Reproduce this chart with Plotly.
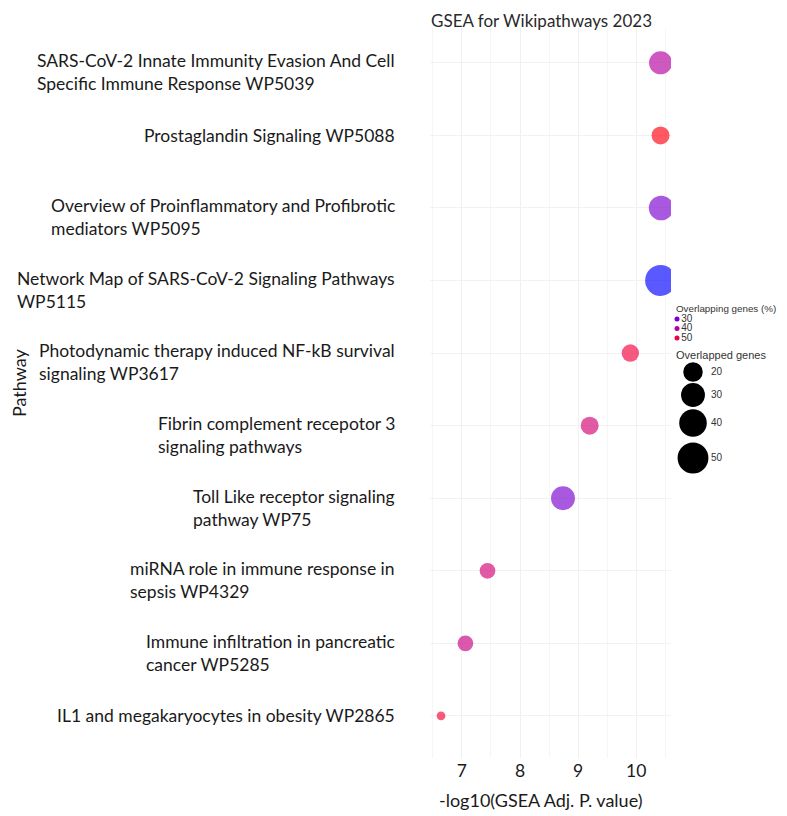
import plotly.graph_objects as go

# ---------------- data ----------------
pathways = [
    "SARS-CoV-2 Innate Immunity Evasion And Cell<br>Specific Immune Response WP5039",
    "Prostaglandin Signaling WP5088",
    "Overview of Proinflammatory and Profibrotic<br>mediators WP5095",
    "Network Map of SARS-CoV-2 Signaling Pathways<br>WP5115",
    "Photodynamic therapy induced NF-kB survival<br>signaling WP3617",
    "Fibrin complement recepotor 3<br>signaling pathways",
    "Toll Like receptor signaling<br>pathway WP75",
    "miRNA role in immune response in<br>sepsis WP4329",
    "Immune infiltration in pancreatic<br>cancer WP5285",
    "IL1 and megakaryocytes in obesity WP2865",
]
neg_log10_padj = [10.42, 10.42, 10.43, 10.42, 9.90, 9.20, 8.74, 7.44, 7.06, 6.64]
overlap_pct = [40, 55, 30, 20, 51, 45, 30, 45, 43, 52]
overlapped_genes = [28, 17, 32, 50, 16, 17, 30, 13, 13, 4]

legend_pct = [30, 40, 50]
legend_genes = [20, 30, 40, 50]
x_ticks = [7, 8, 9, 10]

title_text = "GSEA for Wikipathways 2023"
x_title = "-log10(GSEA Adj. P. value)"
y_title = "Pathway"

# ---------------- styles ----------------
OFF = 8                      # default page-body margin
W_REF, H_REF = 787, 816
W, H = W_REF - OFF, H_REF - OFF
PLOT_L, PLOT_R, PLOT_T, PLOT_B = 430, 671, 28, 758   # reference pixel box of the plot
ML = PLOT_L - OFF
MT = PLOT_T - OFF
MB = H - (PLOT_B - OFF)
MR = 0
PW = W - ML - MR
PH = H - MT - MB
main_frac = (PLOT_R - PLOT_L) / PW

colorscale = [
    [0.0, "#0000ff"],
    [10 / 35, "#7a00d0"],
    [20 / 35, "#b4009e"],
    [30 / 35, "#f00048"],
    [1.0, "#ff0010"],
]
CMIN, CMAX = 20, 55
SIZEREF = 1.6 / 3.9 ** 2
LABEL_FONT = "Lato"
TXT = "#1a1a1a"
idx = list(range(len(pathways)))

fig = go.Figure()

fig.add_trace(go.Scatter(
    x=neg_log10_padj, y=idx, mode="markers",
    marker=dict(size=overlapped_genes, sizemode="area", sizeref=SIZEREF,
                color=overlap_pct, colorscale=colorscale, cmin=CMIN, cmax=CMAX,
                opacity=0.65, line=dict(width=0), showscale=False),
    cliponaxis=True, showlegend=False, hoverinfo="skip",
    xaxis="x", yaxis="y",
))

# ---------- custom legend drawn in a second subplot (reference-pixel coords) ----------
leg_x0 = 675
pct_y = [319 + 9.5 * i for i in range(len(legend_pct))]
fig.add_trace(go.Scatter(
    x=[677] * len(legend_pct), y=pct_y, mode="markers+text",
    marker=dict(size=5, color=legend_pct, colorscale=colorscale, cmin=CMIN, cmax=CMAX,
                showscale=False, opacity=1),
    text=[str(v) for v in legend_pct], textposition="middle right",
    textfont=dict(family="Arial", size=10, color="#333333"),
    showlegend=False, hoverinfo="skip", xaxis="x2", yaxis="y2", cliponaxis=False,
))
genes_y = [372, 395, 423, 458]
fig.add_trace(go.Scatter(
    x=[693] * len(legend_genes), y=genes_y, mode="markers",
    marker=dict(size=legend_genes, sizemode="area", sizeref=SIZEREF, color="#000000",
                opacity=1, line=dict(width=0)),
    showlegend=False, hoverinfo="skip", xaxis="x2", yaxis="y2", cliponaxis=False,
))
fig.add_trace(go.Scatter(
    x=[711] * len(legend_genes), y=genes_y, mode="text",
    text=[str(v) for v in legend_genes], textposition="middle right",
    textfont=dict(family="Arial", size=10, color="#333333"),
    showlegend=False, hoverinfo="skip", xaxis="x2", yaxis="y2", cliponaxis=False,
))

annotations = []
annotations.append(dict(x=leg_x0, y=308, xref="x2", yref="y2", text="Overlapping genes (%)",
                        showarrow=False, xanchor="left", yanchor="middle", borderpad=0,
                        font=dict(family="Arial", size=9.8, color="#333333")))
annotations.append(dict(x=leg_x0, y=355, xref="x2", yref="y2", text="Overlapped genes",
                        showarrow=False, xanchor="left", yanchor="middle", borderpad=0,
                        font=dict(family="Arial", size=11, color="#333333")))

# pathway labels: left-aligned text blocks ending at the same right edge
LAB_SIZE = 17.5
line_h = 1.3 * LAB_SIZE
for i, lab in enumerate(pathways):
    n = len(lab.split("<br>"))
    ys = 0 if n == 1 else -(line_h / 2) + 2
    annotations.append(dict(
        x=0, xref="paper", xshift=-34, xanchor="right",
        y=i, yref="y", yshift=ys, yanchor="middle",
        text=lab, showarrow=False, align="left", borderpad=0,
        font=dict(family=LABEL_FONT, size=LAB_SIZE, color=TXT),
    ))

# chart title
annotations.append(dict(
    x=0, xref="paper", xanchor="left",
    y=1, yref="paper", yshift=MT - 1, yanchor="top",
    text=title_text, showarrow=False, borderpad=0,
    font=dict(family=LABEL_FONT, size=17, color="#2a2a2a"),
))
# y-axis title
annotations.append(dict(
    x=0, xref="paper", xshift=19 - PLOT_L, xanchor="center",
    y=(PLOT_B - 383) / PH, yref="paper", yanchor="middle",
    text=y_title, textangle=-90, showarrow=False, borderpad=0,
    font=dict(family=LABEL_FONT, size=18, color=TXT),
))
# x-axis title (centred where the reference puts it)
annotations.append(dict(
    x=(541 - PLOT_L) / (PLOT_R - PLOT_L) * main_frac, xref="paper", xanchor="center",
    y=0, yref="paper", yshift=-(800 - PLOT_B), yanchor="middle",
    text=x_title, showarrow=False, borderpad=0,
    font=dict(family=LABEL_FONT, size=18, color=TXT),
))

fig.update_layout(
    width=W, height=H,
    margin=dict(l=ML, r=MR, t=MT, b=MB, autoexpand=False),
    paper_bgcolor="white", plot_bgcolor="white",
    xaxis=dict(domain=[0, main_frac], range=[6.45, 10.6], tickvals=x_ticks,
               ticktext=[str(v) for v in x_ticks],
               showgrid=True, gridcolor="#f0f0f0", gridwidth=1,
               minor=dict(dtick=0.5, tick0=6.5, showgrid=True, gridcolor="#f5f5f5"),
               zeroline=False, showline=False, ticks="",
               tickfont=dict(family=LABEL_FONT, size=17.5, color=TXT)),
    yaxis=dict(domain=[0, 1], range=[9.58, -0.48], tickvals=idx, showticklabels=False,
               showgrid=True, gridcolor="#f2f2f2", zeroline=False, showline=False,
               ticks=""),
    xaxis2=dict(domain=[main_frac, 1], range=[PLOT_R, W_REF], visible=False,
                anchor="y2"),
    yaxis2=dict(domain=[0, 1], range=[PLOT_B, PLOT_T], visible=False, anchor="x2"),
    annotations=annotations,
    showlegend=False,
)

fig.write_html("out.html")
